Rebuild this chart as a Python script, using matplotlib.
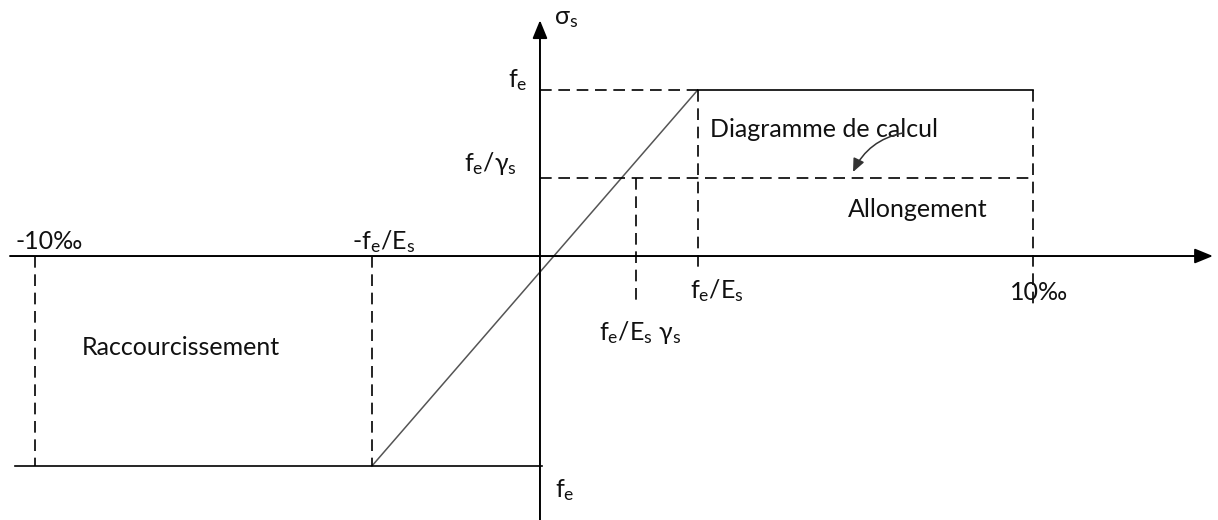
import matplotlib.pyplot as plt

plt.rcParams['font.family'] = ['Lato', 'DejaVu Sans']
plt.rcParams['mathtext.fontset'] = 'custom'
plt.rcParams['mathtext.rm'] = 'Lato'
plt.rcParams['mathtext.it'] = 'Lato'

# strains (‰)
strain_names = ['-10‰', '-fe/Es', 'fe/(Es γs)', 'fe/Es', '10‰']
strain_vals = [-10.24, -3.41, 1.95, 3.2, 10.0]
# stresses (fe = 1)
stress_names = ['fe', 'fe/γs', '-fe']
stress_vals = [1.0, 0.47, -1.265]

eps_min, eps_el_neg, eps_gs, eps_el, eps_max = strain_vals
fe, fe_gs, fe_neg = stress_vals

# axis extents
x_axis = [-10.75, 13.65]
y_axis = [-1.59, 1.42]

fig = plt.figure(figsize=(12.18, 5.2), dpi=100)
ax = fig.add_axes([0, 0, 1, 1])
ax.set_xlim(-10.953, 13.753)
ax.set_ylim(-1.590, 1.542)
ax.axis('off')

txt = '#111111'
dash = dict(color='black', lw=1.2, dashes=(7, 4))
solid = dict(color='black', lw=1.2)

# axes with arrows
ax.annotate('', xy=(x_axis[1], 0), xytext=(x_axis[0], 0),
            arrowprops=dict(arrowstyle='-|>,head_length=1.1,head_width=0.45',
                            color='black', lw=1.4, shrinkA=0, shrinkB=0))
ax.annotate('', xy=(0, y_axis[1]), xytext=(0, y_axis[0]),
            arrowprops=dict(arrowstyle='-|>,head_length=1.1,head_width=0.45',
                            color='black', lw=1.4, shrinkA=0, shrinkB=0))

# calcul diagram
ax.plot([eps_el_neg, eps_el], [fe_neg, fe], color='#555555', lw=1.1)
ax.plot([eps_el, eps_max], [fe, fe], **solid)
ax.plot([-10.65, 0.05], [fe_neg, fe_neg], **solid)

# dashed helpers
ax.plot([0, eps_el], [fe, fe], **dash)
ax.plot([0, eps_max], [fe_gs, fe_gs], **dash)
ax.plot([eps_el, eps_el], [fe, -0.10], **dash)
ax.plot([eps_max, eps_max], [fe, -0.31], **dash)
ax.plot([eps_gs, eps_gs], [fe_gs, -0.265], **dash)
ax.plot([eps_el_neg, eps_el_neg], [0, fe_neg], **dash)
ax.plot([eps_min, eps_min], [0, fe_neg], **dash)

fs = 18
kw = dict(fontsize=fs, color=txt, va='center')
# labels
ax.text(0.28, 1.43, r'$\mathregular{σ_s}$', **kw)
ax.text(-0.25, 1.06, r'$\mathregular{f_e}$', ha='right', **kw)
ax.text(-0.47, 0.56, r'$\mathregular{f_e/γ_s}$', ha='right', **kw)
ax.text(eps_min - 0.4, 0.085, '-10‰', **kw)
ax.text(eps_el_neg - 0.4, 0.085, '-' + r'$\mathregular{f_e/E_s}$', **kw)
ax.text(eps_el - 0.15, -0.205, r'$\mathregular{f_e/E_s}$', **kw)
ax.text(eps_max - 0.47, -0.22, '10‰', **kw)
ax.text(eps_gs - 0.75, -0.46, r'$\mathregular{f_e/E_s\ γ_s}$', **kw)
ax.text(0.3, -1.41, r'$\mathregular{f_e}$', **kw)

ax.text(3.45, 0.76, 'Diagramme de calcul', **kw)
ax.text(6.25, 0.28, 'Allongement', **kw)
ax.text(-9.29, -0.55, 'Raccourcissement', **kw)

ax.annotate('', xy=(6.35, 0.506), xytext=(7.36, 0.741),
            arrowprops=dict(arrowstyle='-|>,head_length=0.8,head_width=0.35',
                            color='#333333', lw=1.1, shrinkA=0, shrinkB=0,
                            connectionstyle='arc3,rad=0.25'))

fig.savefig('out.png', dpi=100)
